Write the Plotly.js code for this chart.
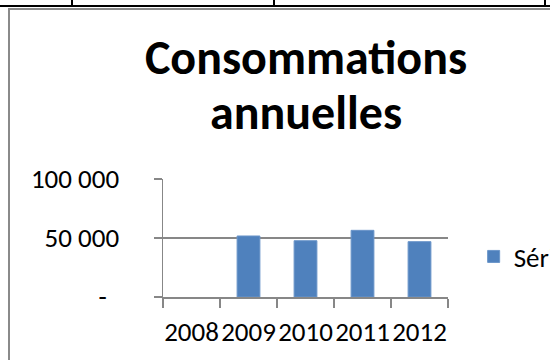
<!DOCTYPE html>
<html>
<head>
<meta charset="utf-8">
<script src="https://cdn.plot.ly/plotly-3.0.1.min.js"></script>
<style>
  html, body { margin: 0; padding: 0; background: #fff; overflow: hidden; }
  #wrap { position: relative; width: 550px; height: 360px; }
  #chart { position: absolute; left: 0; top: 0; width: 550px; height: 360px; }
  .deco { position: absolute; pointer-events: none; }
</style>
</head>
<body>
<div id="wrap">
  <div id="chart"></div>
  <div class="deco" style="left:0;top:5px;width:550px;height:2px;background:#000;"></div>
  <div class="deco" style="left:71px;top:0;width:2px;height:6px;background:#000;"></div>
  <div class="deco" style="left:273px;top:0;width:2px;height:6px;background:#000;"></div>
  <div class="deco" style="left:544px;top:0;width:2px;height:6px;background:#000;"></div>
  <div class="deco" style="left:8px;top:8px;width:542px;height:2px;background:#8a8a8a;"></div>
  <div class="deco" style="left:8px;top:8px;width:2px;height:352px;background:#8a8a8a;"></div>
</div>
<script>
const years = ['2008', '2009', '2010', '2011', '2012'];
const consommations = [null, 51700, 47700, 56500, 46900];
const seriesName = 'Série1';
const titleLine1 = 'Consommations';
const titleLine2 = 'annuelles';
const yTickVals = [0, 50000, 100000];
const yTickText = ['-\u00a0\u00a0', '50 000', '100 000'];

const FONT = 'Carlito, Calibri, "Liberation Sans", Arial, sans-serif';
const GRID = '#878787';
const TITLE_SIZE = 48;
const TICK_SIZE = 27;

const trace = {
  type: 'bar',
  x: years,
  y: consommations,
  name: seriesName,
  marker: { color: '#4F81BD', line: { color: '#6a95c9', width: 1 } },
  showlegend: true,
  hoverinfo: 'none'
};

const layout = {
  width: 550,
  height: 360,
  margin: { l: 163, r: 102, t: 179, b: 63, autoexpand: false },
  paper_bgcolor: '#ffffff',
  plot_bgcolor: '#ffffff',
  font: { family: FONT, size: TICK_SIZE, color: '#000' },
  title: {
    text: titleLine1,
    font: { family: FONT, size: TITLE_SIZE, color: '#000', weight: 'bold' },
    xref: 'container', x: 306 / 550, xanchor: 'center',
    yref: 'container', y: 1 - 40 / 360, yanchor: 'top'
  },
  annotations: [{
    text: titleLine2,
    showarrow: false,
    xref: 'paper', x: (306 - 163) / 285, xanchor: 'center',
    yref: 'paper', y: (297 - 112) / 118, yanchor: 'middle',
    font: { family: FONT, size: TITLE_SIZE, color: '#000', weight: 'bold' }
  }],
  bargap: 0.6,
  showlegend: true,
  legend: {
    x: 1.09, xanchor: 'left', y: 0.34, yanchor: 'middle',
    font: { family: FONT, size: TICK_SIZE, color: '#000' },
    bgcolor: 'rgba(0,0,0,0)'
  },
  xaxis: {
    type: 'category',
    showline: true, linecolor: GRID, linewidth: 1.5,
    ticks: 'outside', tickson: 'boundaries', ticklen: 9, tickcolor: GRID, tickwidth: 1.5,
    showgrid: false, zeroline: false,
    tickangle: 0,
    ticklabelstandoff: 10,
    tickfont: { family: FONT, size: TICK_SIZE, color: '#000' }
  },
  yaxis: {
    range: [0, 100000],
    tickvals: yTickVals, ticktext: yTickText,
    showline: true, linecolor: GRID, linewidth: 1.5,
    ticks: 'outside', ticklen: 8, tickcolor: GRID, tickwidth: 1.5,
    showgrid: true, gridcolor: GRID, gridwidth: 1.5,
    zeroline: false,
    ticklabelstandoff: 29,
    tickfont: { family: FONT, size: TICK_SIZE, color: '#000' }
  }
};

Plotly.newPlot('chart', [trace], layout, { staticPlot: true, displayModeBar: false });
</script>
</body>
</html>
